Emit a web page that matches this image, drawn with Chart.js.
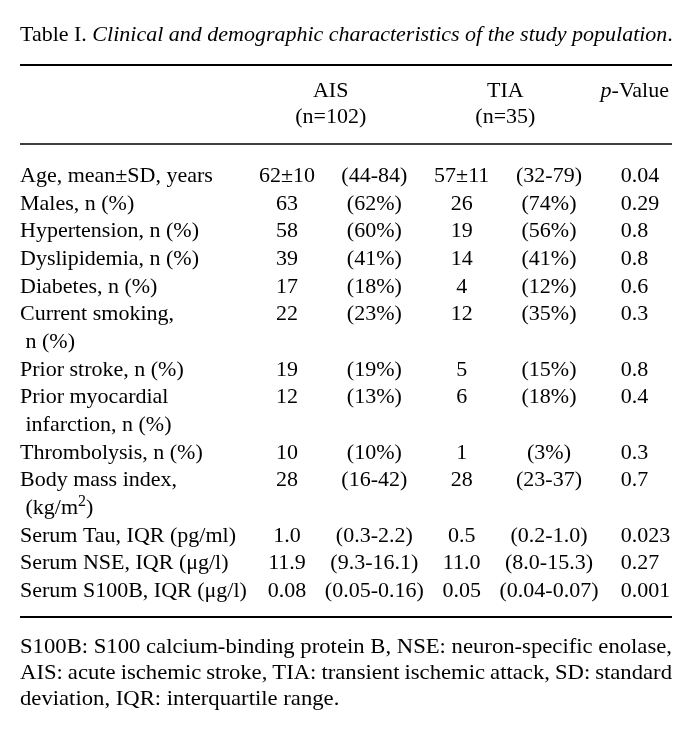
<!DOCTYPE html>
<html>
<head>
<meta charset="utf-8">
<script src="https://cdn.jsdelivr.net/npm/chart.js@4/dist/chart.umd.min.js"></script>
<style>
  body { margin: 0; background: #fff; }
  canvas { display: block; }
</style>
</head>
<body>
<canvas id="myChart" width="692" height="734"></canvas>
<script>
var titleLead = "Table I.";
var titleText = "Clinical and demographic characteristics of the study population";
var groupNames = ["AIS", "TIA"];
var groupSizes = ["(n=102)", "(n=35)"];
var pHeader = ["p", "-Value"];

// one entry per table row, continuation lines as extra items
var rowLabels = [
  ["Age, mean±SD, years"],
  ["Males, n (%)"],
  ["Hypertension, n (%)"],
  ["Dyslipidemia, n (%)"],
  ["Diabetes, n (%)"],
  ["Current smoking,", " n (%)"],
  ["Prior stroke, n (%)"],
  ["Prior myocardial", " infarction, n (%)"],
  ["Thrombolysis, n (%)"],
  ["Body mass index,", " (kg/m^2)"],
  ["Serum Tau, IQR (pg/ml)"],
  ["Serum NSE, IQR (μg/l)"],
  ["Serum S100B, IQR (μg/l)"]
];
var aisValues = ["62±10", "63", "58", "39", "17", "22", "19", "12", "10", "28", "1.0", "11.9", "0.08"];
var aisRanges = ["(44-84)", "(62%)", "(60%)", "(41%)", "(18%)", "(23%)", "(19%)", "(13%)", "(10%)", "(16-42)", "(0.3-2.2)", "(9.3-16.1)", "(0.05-0.16)"];
var tiaValues = ["57±11", "26", "19", "14", "4", "12", "5", "6", "1", "28", "0.5", "11.0", "0.05"];
var tiaRanges = ["(32-79)", "(74%)", "(56%)", "(41%)", "(12%)", "(35%)", "(15%)", "(18%)", "(3%)", "(23-37)", "(0.2-1.0)", "(8.0-15.3)", "(0.04-0.07)"];
var pValues = ["0.04", "0.29", "0.8", "0.8", "0.6", "0.3", "0.8", "0.4", "0.3", "0.7", "0.023", "0.27", "0.001"];

var footnoteLines = [
  "S100B: S100 calcium-binding protein B, NSE: neuron-specific enolase,",
  "AIS: acute ischemic stroke, TIA: transient ischemic attack, SD: standard",
  "deviation, IQR: interquartile range."
];

var ink = "#000";
var fontFamily = "'Liberation Serif', 'Times New Roman', serif";
var fontSize = 22;
var xMin = -2.057, xMax = 5.408;

// line index of each row's first line
var rowLine = [];
var labelPoints = [];
var labelTexts = [];
var line = 0;
rowLabels.forEach(function (lines) {
  rowLine.push(line);
  lines.forEach(function (t) {
    labelPoints.push({ x: xMin, y: line });
    labelTexts.push(t);
    line++;
  });
});
var lastLine = line - 1;

function column(col, texts, align) {
  return {
    data: texts.map(function (t, i) { return { x: col, y: rowLine[i] }; }),
    texts: texts,
    align: align,
    pointRadius: 0,
    pointHoverRadius: 0
  };
}

function font(style) {
  return (style || "") + " " + fontSize + "px " + fontFamily;
}

function drawRich(ctx, text, x, y, align) {
  if (text.indexOf("^") < 0) {
    ctx.textAlign = align;
    ctx.fillText(text, x, y);
    return;
  }
  var parts = text.split("^");
  var sup = parts[1].charAt(0);
  var rest = parts[1].slice(1);
  var supFont = Math.round(fontSize * 0.72) + "px " + fontFamily;
  ctx.textAlign = "left";
  ctx.font = font();
  var w1 = ctx.measureText(parts[0]).width;
  ctx.font = supFont;
  var w2 = ctx.measureText(sup).width;
  ctx.font = font();
  var w3 = ctx.measureText(rest).width;
  var start = align === "center" ? x - (w1 + w2 + w3) / 2 : x;
  ctx.fillText(parts[0], start, y);
  ctx.font = supFont;
  ctx.fillText(sup, start + w1, y - 8);
  ctx.font = font();
  ctx.fillText(rest, start + w1 + w2, y);
}

function justify(ctx, text, left, right, y) {
  var words = text.split(" ");
  var total = 0;
  words.forEach(function (w) { total += ctx.measureText(w).width; });
  var gap = (right - left - total) / (words.length - 1);
  var xPos = left;
  ctx.textAlign = "left";
  words.forEach(function (w) {
    ctx.fillText(w, xPos, y);
    xPos += ctx.measureText(w).width + gap;
  });
}

var tablePlugin = {
  id: "tableText",
  afterDatasetsDraw: function (chart) {
    var ctx = chart.ctx;
    var xs = chart.scales.x;
    var ys = chart.scales.y;
    var L = chart.chartArea.left;
    var R = chart.chartArea.right;
    var y0 = ys.getPixelForValue(0);
    var yN = ys.getPixelForValue(lastLine);

    ctx.save();
    ctx.fillStyle = ink;
    ctx.strokeStyle = ink;
    ctx.textBaseline = "alphabetic";

    // title
    ctx.textAlign = "left";
    ctx.font = font();
    ctx.fillText(titleLead + " ", L, y0 - 141);
    var tx = L + ctx.measureText(titleLead + " ").width;
    ctx.font = font("italic");
    ctx.fillText(titleText, tx, y0 - 141);
    tx += ctx.measureText(titleText).width;
    ctx.font = font();
    ctx.fillText(".", tx, y0 - 141);

    // rules
    function rule(yy, w) {
      ctx.lineWidth = w;
      ctx.beginPath();
      ctx.moveTo(L, yy);
      ctx.lineTo(R, yy);
      ctx.stroke();
    }
    rule(y0 - 117, 2);
    rule(y0 - 38, 1.6);
    rule(yN + 20, 2);

    // header
    ctx.font = font();
    ctx.textAlign = "center";
    var aisX = (xs.getPixelForValue(1) + xs.getPixelForValue(2)) / 2;
    var tiaX = (xs.getPixelForValue(3) + xs.getPixelForValue(4)) / 2;
    ctx.fillText(groupNames[0], aisX, y0 - 85);
    ctx.fillText(groupSizes[0], aisX, y0 - 59);
    ctx.fillText(groupNames[1], tiaX, y0 - 85);
    ctx.fillText(groupSizes[1], tiaX, y0 - 59);
    ctx.textAlign = "right";
    ctx.fillText(pHeader[1], R - 3, y0 - 85);
    var vw = ctx.measureText(pHeader[1]).width;
    ctx.font = font("italic");
    ctx.fillText(pHeader[0], R - 3 - vw, y0 - 85);

    // cells
    chart.data.datasets.forEach(function (ds, di) {
      chart.getDatasetMeta(di).data.forEach(function (el, i) {
        ctx.font = font();
        drawRich(ctx, ds.texts[i], el.x, el.y, ds.align);
      });
    });

    // footnote: wider set, justified to the table width
    ctx.font = font();
    var natural = ctx.measureText(footnoteLines[0]).width;
    var sx = Math.min((R - L) / natural, 1.12);
    ctx.save();
    ctx.translate(L, 0);
    ctx.scale(sx, 1);
    var w = (R - L) / sx;
    footnoteLines.forEach(function (t, i) {
      var yy = yN + 56 + i * 26;
      if (i < footnoteLines.length - 1) {
        justify(ctx, t, 0, w, yy);
      } else {
        ctx.textAlign = "left";
        ctx.fillText(t, 0, yy);
      }
    });
    ctx.restore();
    ctx.restore();
  }
};

var chartContext = document.getElementById("myChart").getContext("2d");

var chart = new Chart(chartContext, {
  type: "scatter",
  data: {
    datasets: [
      { data: labelPoints, texts: labelTexts, align: "left", pointRadius: 0, pointHoverRadius: 0 },
      column(1, aisValues, "center"),
      column(2, aisRanges, "center"),
      column(3, tiaValues, "center"),
      column(4, tiaRanges, "center"),
      column(4.82, pValues, "left")
    ]
  },
  options: {
    responsive: false,
    animation: false,
    events: [],
    layout: { padding: { left: 20, right: 20, top: 182, bottom: 137 } },
    plugins: { legend: { display: false }, tooltip: { enabled: false } },
    scales: {
      x: { type: "linear", min: xMin, max: xMax, display: false },
      y: { type: "linear", min: 0, max: lastLine, reverse: true, display: false }
    }
  },
  plugins: [tablePlugin]
});
</script>
</body>
</html>
